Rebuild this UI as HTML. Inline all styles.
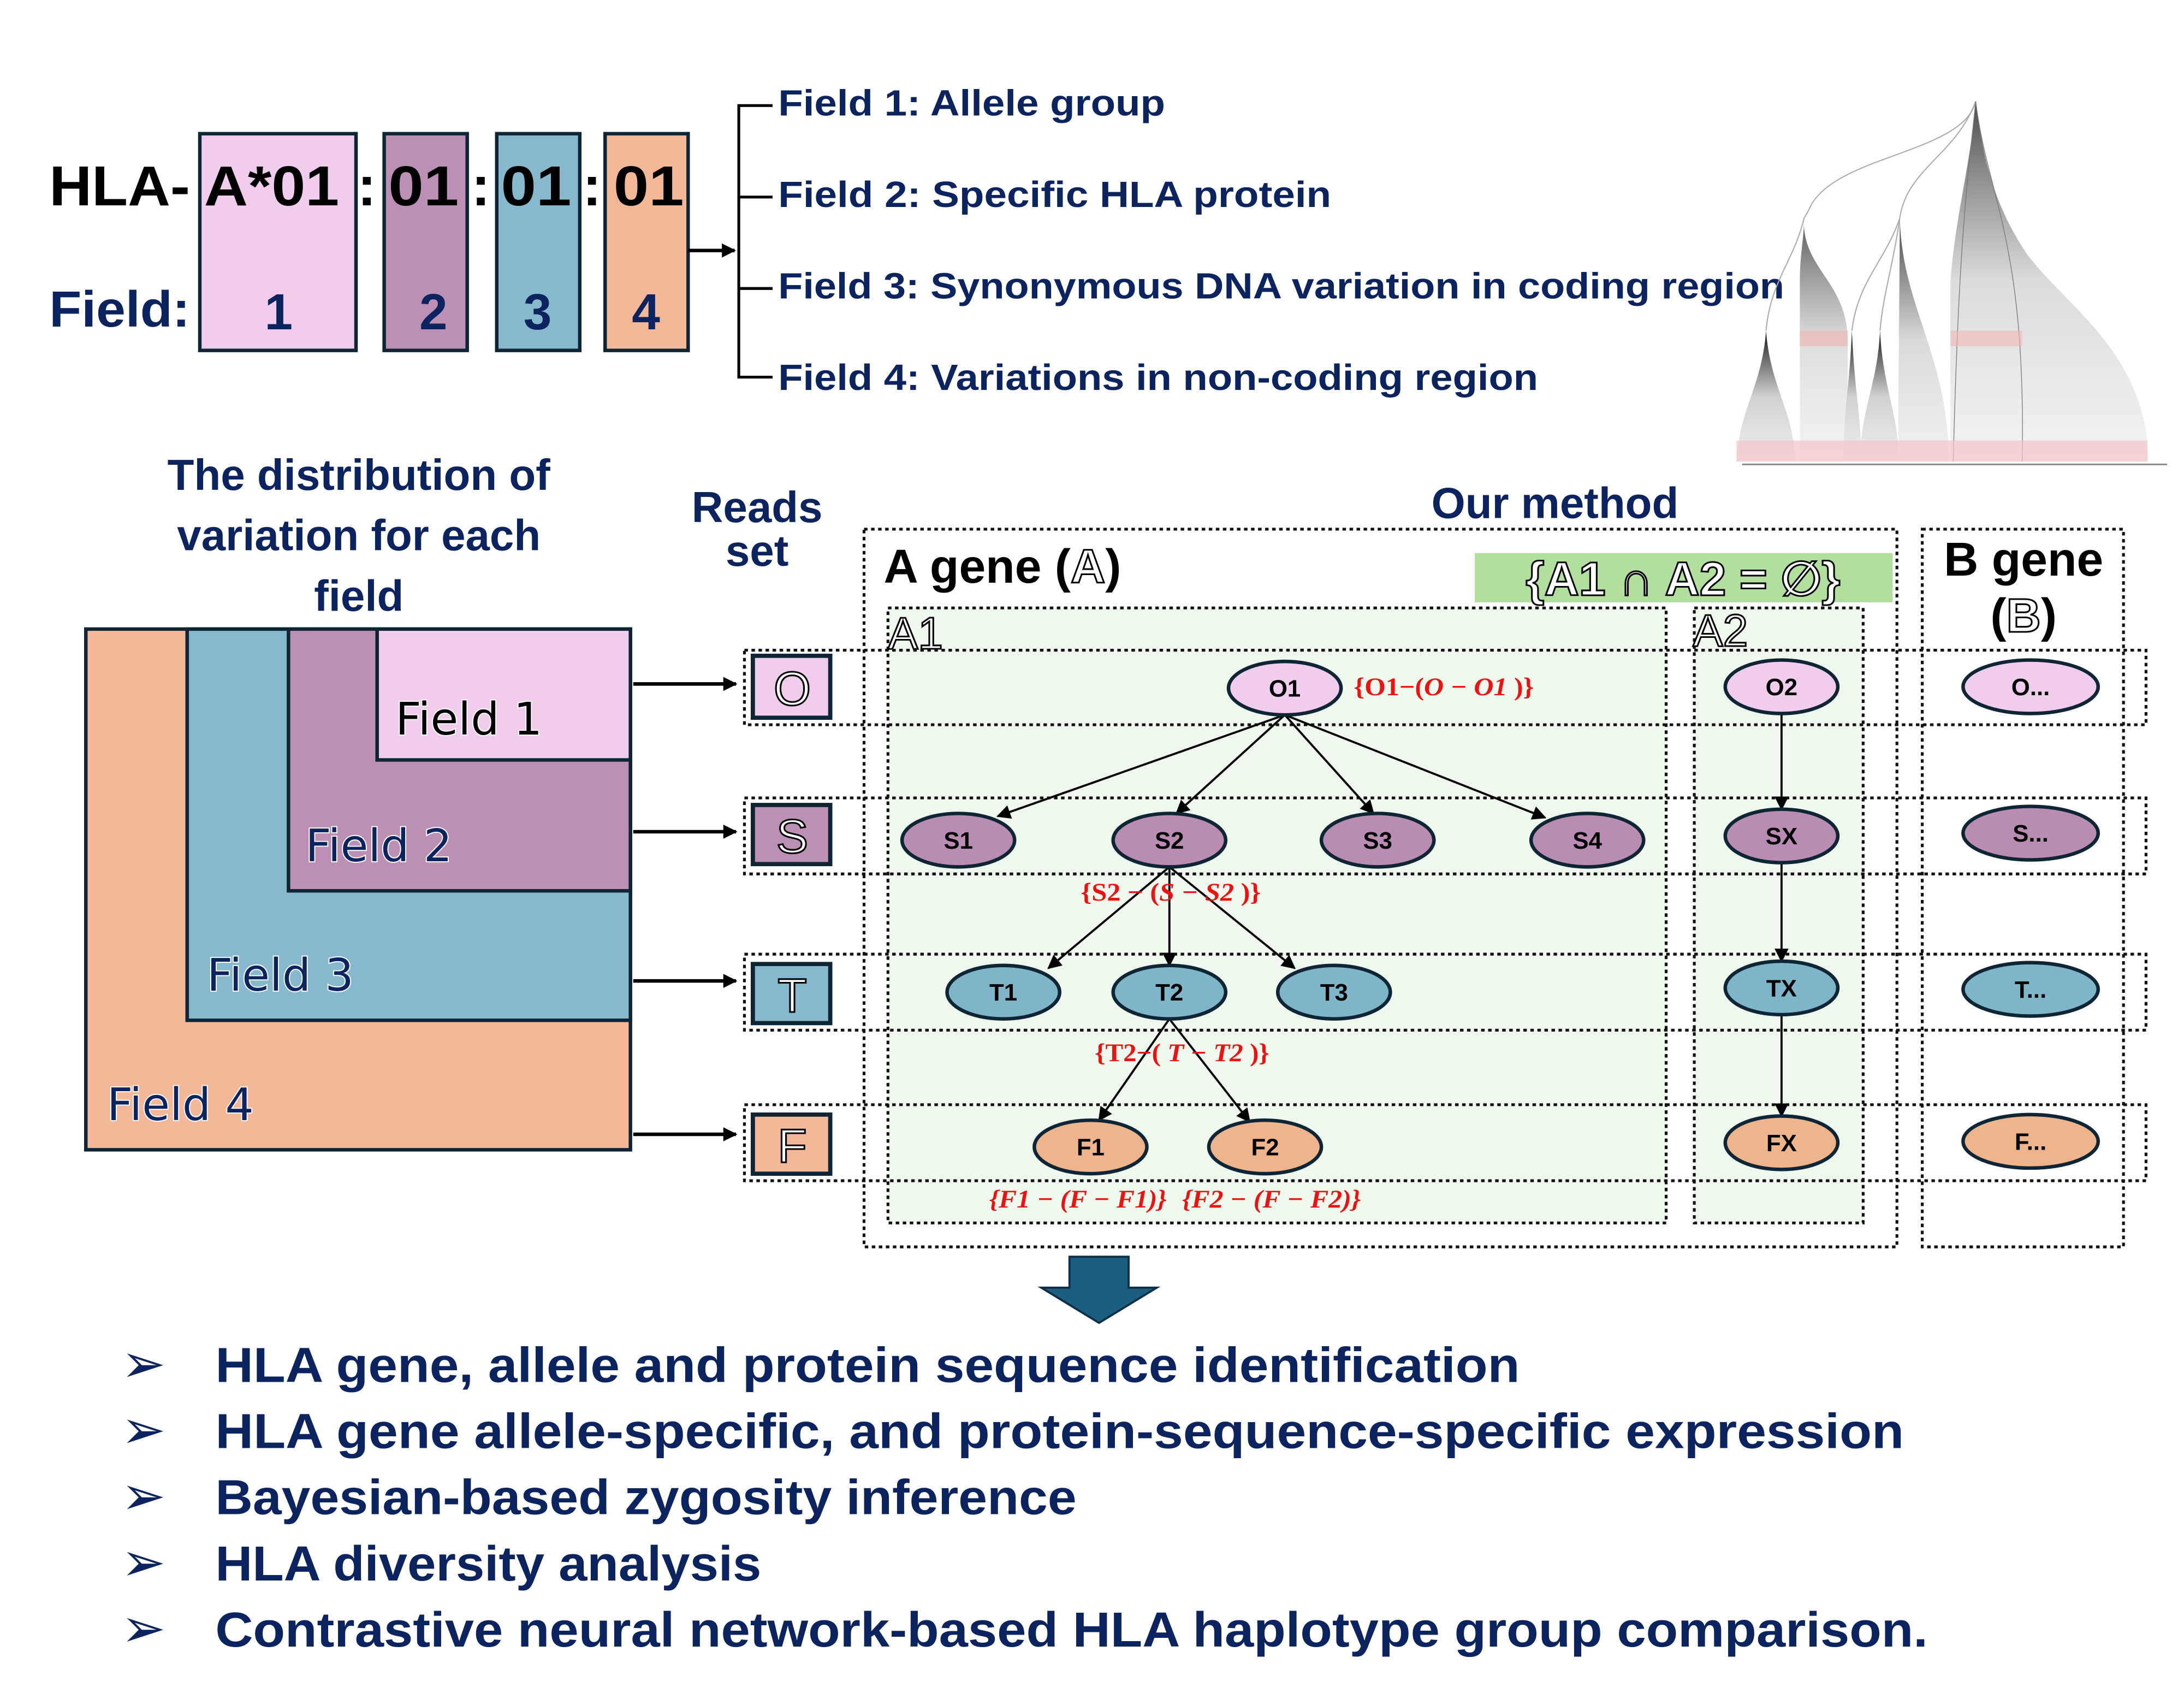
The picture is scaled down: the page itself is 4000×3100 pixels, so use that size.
<!DOCTYPE html>
<html><head><meta charset="utf-8"><style>html,body{margin:0;padding:0;background:#fff}svg{display:block}</style></head><body>
<svg xmlns="http://www.w3.org/2000/svg" width="4000" height="3100" viewBox="0 0 1552 1203" preserveAspectRatio="none" font-family="Liberation Sans, DejaVu Sans, sans-serif">
<defs>
<marker id="ah" markerWidth="10" markerHeight="10" refX="9" refY="5" orient="auto" markerUnits="userSpaceOnUse"><path d="M0,0 L10,5 L0,10 Z" fill="#000"/></marker>
<linearGradient id="lg" x1="0" y1="0" x2="0" y2="1"><stop offset="0" stop-color="#111"/><stop offset="0.2" stop-color="#666"/><stop offset="0.5" stop-color="#d0d0d0"/><stop offset="1" stop-color="#f0f0f0"/></linearGradient>
</defs>
<rect width="1552" height="1203" fill="#fff"/>

<!-- Top HLA name -->
<rect x="142" y="95" width="111" height="154" fill="#f0cdec" stroke="#0d2535" stroke-width="2.5"/>
<rect x="273" y="95" width="59" height="154" fill="#bc8fb4" stroke="#0d2535" stroke-width="2.5"/>
<rect x="353" y="95" width="59" height="154" fill="#86b9ce" stroke="#0d2535" stroke-width="2.5"/>
<rect x="430" y="95" width="59" height="154" fill="#f2b898" stroke="#0d2535" stroke-width="2.5"/>
<g font-weight="bold" font-size="40" fill="#000">
<text x="35" y="146" textLength="100" lengthAdjust="spacingAndGlyphs">HLA-</text>
<text x="145" y="146" textLength="96" lengthAdjust="spacingAndGlyphs">A*01</text>
<text x="254" y="146">:</text>
<text x="276" y="146" textLength="50" lengthAdjust="spacingAndGlyphs">01</text>
<text x="335" y="146">:</text>
<text x="356" y="146" textLength="50" lengthAdjust="spacingAndGlyphs">01</text>
<text x="414" y="146">:</text>
<text x="436" y="146" textLength="50" lengthAdjust="spacingAndGlyphs">01</text>
</g>
<g font-weight="bold" font-size="36" fill="#0b2460">
<text x="35" y="232" textLength="100" lengthAdjust="spacingAndGlyphs">Field:</text>
<text x="188" y="234">1</text><text x="298" y="234">2</text><text x="372" y="234">3</text><text x="449" y="234">4</text>
</g>
<line x1="489" y1="178" x2="522" y2="178" stroke="#000" stroke-width="2.5" marker-end="url(#ah)"/>
<path d="M549,75 H525 V268 H549 M525,140 H549 M525,205 H549" fill="none" stroke="#000" stroke-width="2"/>
<g font-weight="bold" font-size="26" fill="#0b2460">
<text x="553" y="82" textLength="275" lengthAdjust="spacingAndGlyphs">Field 1: Allele group</text>
<text x="553" y="147" textLength="393" lengthAdjust="spacingAndGlyphs">Field 2: Specific HLA protein</text>
<text x="553" y="212" textLength="715" lengthAdjust="spacingAndGlyphs">Field 3: Synonymous DNA variation in coding region</text>
<text x="553" y="277" textLength="540" lengthAdjust="spacingAndGlyphs">Field 4: Variations in non-coding region</text>
</g>

<!-- Tree image approximation -->
<g>
<path d="M1404,72 C1395,110 1300,110 1285,150 C1282,155 1282,155 1282,155" fill="none" stroke="#aaa" stroke-width="0.8"/>
<path d="M1404,72 C1390,110 1355,120 1350,155" fill="none" stroke="#aaa" stroke-width="0.8"/>
<path d="M1282,155 C1275,185 1258,200 1255,235" fill="none" stroke="#aaa" stroke-width="0.8"/>
<path d="M1350,155 C1340,185 1320,200 1316,235 M1350,155 C1345,190 1338,210 1336,235" fill="none" stroke="#aaa" stroke-width="0.8"/>
<path d="M1255,235 C1252,275 1236,290 1234,328 H1276 C1274,290 1258,275 1255,235 Z" fill="url(#lg)"/>
<path d="M1282,155 C1280,190 1312,200 1313,240 V328 H1279 V200 C1279,180 1282,170 1282,155 Z" fill="url(#lg)" opacity="0.7"/>
<path d="M1316,235 C1314,280 1310,290 1310,328 H1323 C1322,290 1318,280 1316,235 Z" fill="url(#lg)"/>
<path d="M1336,235 C1334,275 1322,290 1322,328 H1350 C1348,290 1338,275 1336,235 Z" fill="url(#lg)"/>
<path d="M1350,155 C1352,220 1384,250 1385,328 H1349 C1349,250 1350,200 1350,155 Z" fill="url(#lg)" opacity="0.8"/>
<path d="M1404,72 C1400,120 1390,150 1386,200 V328 H1527 C1525,250 1470,220 1440,180 C1420,150 1410,120 1404,72 Z" fill="url(#lg)" opacity="0.75"/>
<path d="M1404,72 C1398,130 1392,170 1388,328 M1404,72 C1412,140 1440,170 1437,328" fill="none" stroke="#777" stroke-width="0.5"/>
<rect x="1279" y="235" width="34" height="11" fill="#f0b8b8" opacity="0.7"/>
<rect x="1386" y="235" width="51" height="11" fill="#f0b8b8" opacity="0.6"/>
<rect x="1234" y="313" width="292" height="15" fill="#f2c4c4" opacity="0.7"/>
<line x1="1238" y1="330" x2="1540" y2="330" stroke="#888" stroke-width="1.2"/>
</g>

<!-- Left distribution -->
<g font-weight="bold" font-size="31" fill="#0b2460" text-anchor="middle">
<text x="255" y="348">The distribution of</text>
<text x="255" y="391">variation for each</text>
<text x="255" y="434">field</text>
</g>
<rect x="61" y="447" width="387" height="370" fill="#f2b898" stroke="#0d2535" stroke-width="2.5"/>
<rect x="133" y="447" width="315" height="278" fill="#86b9ce" stroke="#0d2535" stroke-width="2.5"/>
<rect x="205" y="447" width="243" height="186" fill="#bc8fb4" stroke="#0d2535" stroke-width="2.5"/>
<rect x="268" y="447" width="180" height="93" fill="#f0cdec" stroke="#0d2535" stroke-width="2.5"/>
<g font-size="32" stroke="#fff" stroke-width="1.5" paint-order="stroke" font-family="DejaVu Sans, Liberation Sans, sans-serif">
<text x="281" y="522" fill="#000">Field 1</text>
<text x="217" y="612" fill="#0b2460">Field 2</text>
<text x="147" y="704" fill="#0b2460">Field 3</text>
<text x="76" y="796" fill="#0b2460">Field 4</text>
</g>
<g stroke="#000" stroke-width="2.5">
<line x1="450" y1="486" x2="523" y2="486" marker-end="url(#ah)"/>
<line x1="450" y1="591" x2="523" y2="591" marker-end="url(#ah)"/>
<line x1="450" y1="697" x2="523" y2="697" marker-end="url(#ah)"/>
<line x1="450" y1="806" x2="523" y2="806" marker-end="url(#ah)"/>
</g>

<!-- Reads set -->
<g font-weight="bold" font-size="31" fill="#0b2460" text-anchor="middle">
<text x="538" y="371">Reads</text><text x="538" y="402">set</text>
<text x="1105" y="368">Our method</text>
</g>

<!-- A gene region -->
<rect x="631" y="432" width="553" height="437" fill="#eef8ec" stroke="#111" stroke-width="2" stroke-dasharray="2.5,2.5"/>
<rect x="1204" y="432" width="120" height="437" fill="#eef8ec" stroke="#111" stroke-width="2" stroke-dasharray="2.5,2.5"/>
<rect x="614" y="376" width="734" height="510" fill="none" stroke="#111" stroke-width="2" stroke-dasharray="2.5,2.5"/>
<rect x="1366" y="376" width="143" height="510" fill="none" stroke="#111" stroke-width="2" stroke-dasharray="2.5,2.5"/>
<rect x="1048" y="393" width="297" height="35" fill="#b2df9e"/>
<text x="628" y="414" font-weight="bold" font-size="34" fill="#000">A gene (<tspan fill="#fff" stroke="#000" stroke-width="1.2">A</tspan>)</text>
<text x="1196" y="423" text-anchor="middle" font-size="34" fill="#fff" stroke="#000" stroke-width="1.2" font-weight="bold">{A1 ∩ A2 = ∅}</text>
<text x="1438" y="409" text-anchor="middle" font-weight="bold" font-size="34" fill="#000">B gene</text>
<text x="1438" y="449" text-anchor="middle" font-weight="bold" font-size="34" fill="#000">(<tspan fill="#fff" stroke="#000" stroke-width="1.2">B</tspan>)</text>
<text x="631" y="461" font-size="32" fill="#fff" stroke="#000" stroke-width="1.2">A1</text>
<text x="1203" y="459" font-size="32" fill="#fff" stroke="#000" stroke-width="1.2">A2</text>

<!-- row bands -->
<g fill="none" stroke="#111" stroke-width="2" stroke-dasharray="2.5,2.5">
<rect x="529" y="462" width="996" height="53"/>
<rect x="529" y="567" width="996" height="54"/>
<rect x="529" y="678" width="996" height="54"/>
<rect x="529" y="785" width="996" height="54"/>
</g>
<g stroke="#0d2535" stroke-width="3">
<rect x="535" y="466" width="55" height="44" fill="#f0cdec"/>
<rect x="535" y="572" width="55" height="42" fill="#bc8fb4"/>
<rect x="535" y="685" width="55" height="42" fill="#86b9ce"/>
<rect x="535" y="792" width="55" height="42" fill="#f2b898"/>
</g>
<g font-size="34" fill="#fff" stroke="#000" stroke-width="1.2" text-anchor="middle">
<text x="563" y="501">O</text><text x="563" y="606">S</text><text x="563" y="719">T</text><text x="563" y="826">F</text>
</g>

<!-- edges -->
<g stroke="#000" stroke-width="1.5" marker-end="url(#ah)" fill="none">
<line x1="913" y1="508" x2="709" y2="580"/>
<line x1="913" y1="508" x2="836" y2="578"/>
<line x1="913" y1="508" x2="976" y2="578"/>
<line x1="913" y1="508" x2="1098" y2="581"/>
<line x1="831" y1="616" x2="745" y2="688"/>
<line x1="831" y1="616" x2="831" y2="686"/>
<line x1="831" y1="616" x2="920" y2="688"/>
<line x1="831" y1="724" x2="781" y2="796"/>
<line x1="831" y1="724" x2="888" y2="797"/>
<line x1="1266" y1="507" x2="1266" y2="575"/>
<line x1="1266" y1="613" x2="1266" y2="683"/>
<line x1="1266" y1="721" x2="1266" y2="793"/>
</g>

<!-- nodes -->
<g stroke="#0d2535" stroke-width="2.5">
<ellipse cx="913" cy="489" rx="40" ry="19" fill="#f0cdec"/>
<ellipse cx="681" cy="597" rx="40" ry="19" fill="#b98db3"/>
<ellipse cx="831" cy="597" rx="40" ry="19" fill="#b98db3"/>
<ellipse cx="979" cy="597" rx="40" ry="19" fill="#b98db3"/>
<ellipse cx="1128" cy="597" rx="40" ry="19" fill="#b98db3"/>
<ellipse cx="713" cy="705" rx="40" ry="19" fill="#7fb5c8"/>
<ellipse cx="831" cy="705" rx="40" ry="19" fill="#7fb5c8"/>
<ellipse cx="948" cy="705" rx="40" ry="19" fill="#7fb5c8"/>
<ellipse cx="775" cy="815" rx="40" ry="19" fill="#eeb48c"/>
<ellipse cx="899" cy="815" rx="40" ry="19" fill="#eeb48c"/>
<ellipse cx="1266" cy="488" rx="40" ry="19" fill="#f0cdec"/>
<ellipse cx="1266" cy="594" rx="40" ry="19" fill="#b98db3"/>
<ellipse cx="1266" cy="702" rx="40" ry="19" fill="#7fb5c8"/>
<ellipse cx="1266" cy="812" rx="40" ry="19" fill="#eeb48c"/>
<ellipse cx="1443" cy="488" rx="48" ry="19" fill="#f0cdec"/>
<ellipse cx="1443" cy="592" rx="48" ry="19" fill="#b98db3"/>
<ellipse cx="1443" cy="703" rx="48" ry="19" fill="#7fb5c8"/>
<ellipse cx="1443" cy="811" rx="48" ry="19" fill="#eeb48c"/>
</g>
<g font-weight="bold" font-size="17" fill="#000" text-anchor="middle">
<text x="913" y="495">O1</text>
<text x="681" y="603">S1</text><text x="831" y="603">S2</text><text x="979" y="603">S3</text><text x="1128" y="603">S4</text>
<text x="713" y="711">T1</text><text x="831" y="711">T2</text><text x="948" y="711">T3</text>
<text x="775" y="821">F1</text><text x="899" y="821">F2</text>
<text x="1266" y="494">O2</text><text x="1266" y="600">SX</text><text x="1266" y="708">TX</text><text x="1266" y="818">FX</text>
<text x="1443" y="494">O...</text><text x="1443" y="598">S...</text><text x="1443" y="709">T...</text><text x="1443" y="817">F...</text>
</g>
<g font-family="Liberation Serif, DejaVu Serif, serif" font-weight="bold" font-size="18" fill="#ee1111">
<text x="962" y="494" textLength="128" lengthAdjust="spacingAndGlyphs">{O1−(<tspan font-style="italic">O − O1</tspan> )}</text>
<text x="768" y="640" textLength="128" lengthAdjust="spacingAndGlyphs">{S2 − (<tspan font-style="italic">S − S2</tspan> )}</text>
<text x="778" y="754" textLength="124" lengthAdjust="spacingAndGlyphs">{T2−( <tspan font-style="italic">T − T2</tspan> )}</text>
<text x="703" y="858" font-style="italic" textLength="126" lengthAdjust="spacingAndGlyphs">{F1 − (F − F1)}</text>
<text x="840" y="858" font-style="italic" textLength="127" lengthAdjust="spacingAndGlyphs">{F2 − (F − F2)}</text>
</g>

<!-- down arrow -->
<path d="M760,893 H802 V915 H822 L781,940 L740,915 H760 Z" fill="#1a5e80" stroke="#0d3048" stroke-width="1.5"/>

<!-- bullets -->
<g font-weight="bold" font-size="35" fill="#0b2460">
<text x="86" y="982" font-size="38">➢</text><text x="86" y="1029" font-size="38">➢</text><text x="86" y="1076" font-size="38">➢</text><text x="86" y="1123" font-size="38">➢</text><text x="86" y="1170" font-size="38">➢</text>
<text x="153" y="982" textLength="927" lengthAdjust="spacingAndGlyphs">HLA gene, allele and protein sequence identification</text>
<text x="153" y="1029" textLength="1200" lengthAdjust="spacingAndGlyphs">HLA gene allele-specific, and protein-sequence-specific expression</text>
<text x="153" y="1076" textLength="612" lengthAdjust="spacingAndGlyphs">Bayesian-based zygosity inference</text>
<text x="153" y="1123" textLength="388" lengthAdjust="spacingAndGlyphs">HLA diversity analysis</text>
<text x="153" y="1170" textLength="1217" lengthAdjust="spacingAndGlyphs">Contrastive neural network-based HLA haplotype group comparison.</text>
</g>
</svg>
</body></html>
